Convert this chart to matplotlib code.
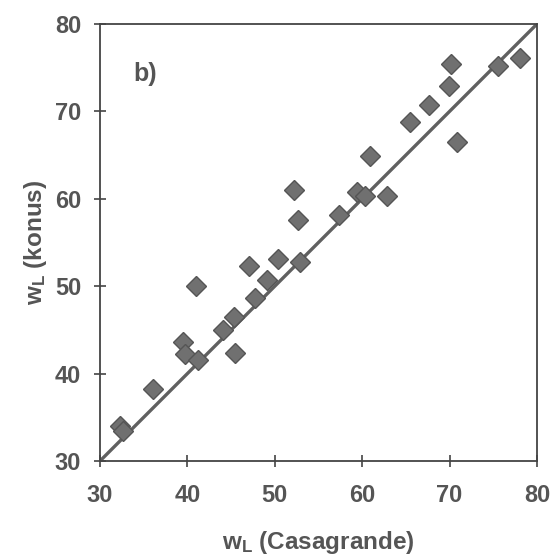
import matplotlib.pyplot as plt

# liquid limit: Casagrande cup vs. cone (konus)
w_casagrande = [32.3, 32.6, 36.1, 39.5, 39.7, 41.2, 41.0, 44.1, 45.3, 45.5,
                47.1, 47.7, 49.1, 50.4, 52.2, 52.7, 52.9, 57.3, 59.4, 60.3,
                60.9, 62.8, 65.5, 67.6, 69.9, 70.2, 70.8, 75.5, 78.1]
w_konus = [34.0, 33.4, 38.2, 43.6, 42.2, 41.6, 50.0, 45.0, 46.5, 42.4,
           52.3, 48.7, 50.7, 53.1, 61.0, 57.6, 52.8, 58.1, 60.8, 60.3,
           64.9, 60.3, 68.8, 70.7, 72.9, 75.4, 66.5, 75.2, 76.1]
line_range = [30, 80]
ticks = [30, 40, 50, 60, 70, 80]

TEXT = "#555555"
plt.rcParams["font.family"] = ["Liberation Sans", "DejaVu Sans"]
plt.rcParams["mathtext.fontset"] = "custom"
plt.rcParams["mathtext.bf"] = "Liberation Sans:bold"

fig = plt.figure(figsize=(5.54, 5.6), dpi=100)
ax = fig.add_axes([0.1805, 0.1768, 0.7888, 0.7804])

ax.plot(line_range, line_range, color="#606060", lw=2.4, zorder=2)
ax.plot(w_casagrande, w_konus, ls="none", marker="D", ms=10.5,
        mfc="#707070", mec="#555555", mew=1.0, zorder=3)

ax.set_xlim(30, 80)
ax.set_ylim(30, 80)
ax.set_xticks(ticks)
ax.set_yticks(ticks)
ax.tick_params(direction="inout", length=9, width=1.2, color="#444444",
               labelsize=17, labelcolor=TEXT, top=False, right=False)
ax.tick_params(axis="x", pad=12)
ax.tick_params(axis="y", pad=9)
for lab in ax.get_xticklabels() + ax.get_yticklabels():
    lab.set_fontweight("bold")
for sp in ax.spines.values():
    sp.set_color("#444444")
    sp.set_linewidth(1.3)

ax.set_xlabel("$\\mathbf{w_L}$ (Casagrande)", fontsize=17.5,
              fontweight="bold", color=TEXT, labelpad=16)
ax.set_ylabel("$\\mathbf{w_L}$ (konus)", fontsize=17.5,
              fontweight="bold", color=TEXT, labelpad=4)
ax.text(33.8, 74.3, "b)", fontsize=18, fontweight="bold", color=TEXT,
        va="center")

fig.savefig("out.png", dpi=100)
